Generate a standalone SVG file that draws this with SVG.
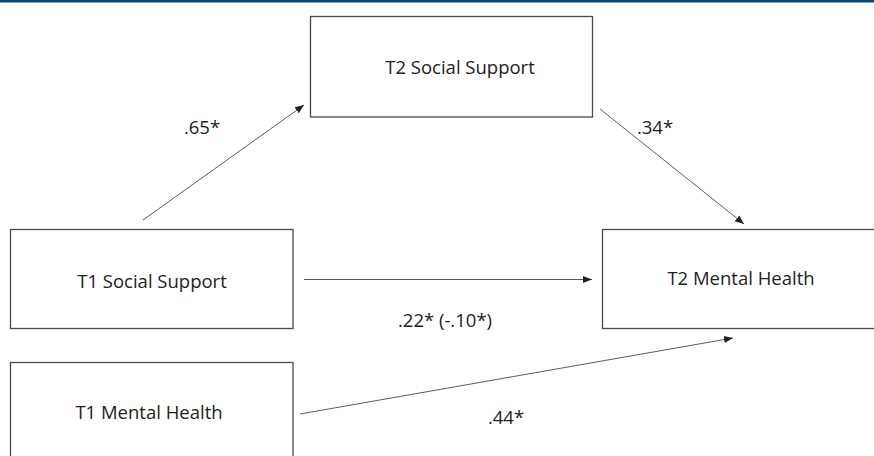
<svg xmlns="http://www.w3.org/2000/svg" width="874" height="456" viewBox="0 0 874 456">
<style>
.box{fill:#fff;stroke:#4a4a4a;stroke-width:1.3}
.lbl{font-family:"Open Sans","Liberation Sans",sans-serif;font-size:18.5px;fill:#222;text-anchor:middle}
.con{stroke:#333;stroke-width:0.8;fill:none;marker-end:url(#ah)}
</style>
<defs>
<marker id="ah" viewBox="0 0 10 10" refX="10" refY="5" markerWidth="9" markerHeight="9" markerUnits="userSpaceOnUse" orient="auto">
<path d="M0,1 L10,5 L0,9 Z" fill="#222"/>
</marker>
</defs>
<rect x="0" y="0" width="874" height="456" fill="#fff"/>
<rect x="0" y="0" width="874" height="2.5" fill="#064a6c"/>
<g id="t2ss"><rect class="box" x="310.5" y="16.5" width="282" height="100.5"/><text class="lbl" x="460" y="74">T2 Social Support</text></g>
<g id="t1ss"><rect class="box" x="10.5" y="229.5" width="282.5" height="99"/><text class="lbl" x="152" y="288">T1 Social Support</text></g>
<g id="t2mh"><rect class="box" x="602.5" y="229.5" width="280" height="99"/><text class="lbl" x="741" y="285">T2 Mental Health</text></g>
<g id="t1mh"><rect class="box" x="10.5" y="362.5" width="282.5" height="110"/><text class="lbl" x="149" y="419">T1 Mental Health</text></g>
<g id="connectors">
<line class="con" x1="143" y1="220" x2="304" y2="105"/>
<line class="con" x1="600" y1="109" x2="744" y2="224"/>
<line class="con" x1="304" y1="279.5" x2="592" y2="279.5"/>
<line class="con" x1="300" y1="414" x2="733" y2="338"/>
</g>
<g id="labels">
<text class="lbl" x="202" y="134">.65*</text>
<text class="lbl" x="655" y="134">.34*</text>
<text class="lbl" x="445" y="327">.22* (-.10*)</text>
<text class="lbl" x="506" y="424">.44*</text>
</g>
</svg>
